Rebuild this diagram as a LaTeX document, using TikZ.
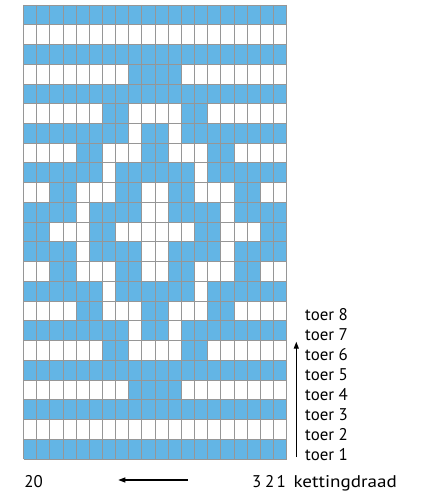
\documentclass[tikz,border=0pt]{standalone}
\usepackage{fontspec}
\setmainfont{PT Sans}
\usetikzlibrary{arrows.meta}
\definecolor{cellblue}{RGB}{99,181,229}
\definecolor{gridgray}{RGB}{150,150,150}
\begin{document}
\begin{tikzpicture}[x=1bp,y=-1bp,
  lbl/.style={font=\fontsize{17}{19}\selectfont, inner sep=0pt, text=black},
  gridline/.style={draw=gridgray, line width=0.9bp},
  arrowline/.style={draw=black, line width=1.1bp, -{Triangle[length=7bp,width=5bp]}}]
\useasboundingbox (0,0) rectangle (421,493);
\def\X{23.5}\def\W{13.16}\def\Y{5}\def\H{19.74}
% blue cells
\foreach \r/\ranges in {
  1/{1/20}, 3/{1/20}, 4/{9/12}, 5/{1/20}, 6/{7/8,13/14},
  7/{1/8,10/11,13/20}, 8/{5/6,10/11,15/16}, 9/{1/6,8/13,15/20},
  10/{3/4,8/9,12/13,17/18}, 11/{1/4,6/9,12/15,17/20},
  12/{1/2,6/7,14/15,19/20},
  13/{1/4,6/9,12/15,17/20}, 14/{3/4,8/9,12/13,17/18},
  15/{1/6,8/13,15/20}, 16/{5/6,10/11,15/16}, 17/{1/8,10/11,13/20},
  18/{7/8,13/14}, 19/{1/20}, 20/{9/12}, 21/{1/20}, 23/{1/20}}{
  \foreach \a/\b in \ranges {
    \fill[cellblue] (\X+\a*\W-\W, \Y+\r*\H-\H) rectangle (\X+\b*\W, \Y+\r*\H);
  }
}
% grid lines
\foreach \i in {0,...,20} {
  \draw[gridline] (\X+\i*\W, \Y) -- (\X+\i*\W, \Y+23*\H);
}
\foreach \j in {0,...,23} {
  \draw[gridline] (\X, \Y+\j*\H) -- (\X+20*\W, \Y+\j*\H);
}
% row labels
\foreach \k in {1,...,8} {
  \node[lbl, anchor=base west] (toer\k) at (305, 460-\k*19.9+19.9) {toer \k};
}
% vertical arrow
\coordinate (vstart) at (296.3, 457);
\coordinate (vend) at (296.3, 341.7);
\draw[arrowline] (vstart) -- (vend);
% bottom labels
\node[lbl, anchor=base west] (twenty) at (24.3, 487.5) {20};
\node[lbl, anchor=base] (three) at (256.7, 487.5) {3};
\node[lbl, anchor=base] (two) at (269.7, 487.5) {2};
\node[lbl, anchor=base] (one) at (281.2, 487.5) {1};
\node[lbl, anchor=base west] (warp) at (293.3, 487.5) {\resizebox{103.4bp}{\height}{kettingdraad}};
\coordinate (hstart) at (187.7, 480);
\coordinate (hend) at (118.3, 480);
\draw[arrowline] (hstart) -- (hend);
\end{tikzpicture}
\end{document}
